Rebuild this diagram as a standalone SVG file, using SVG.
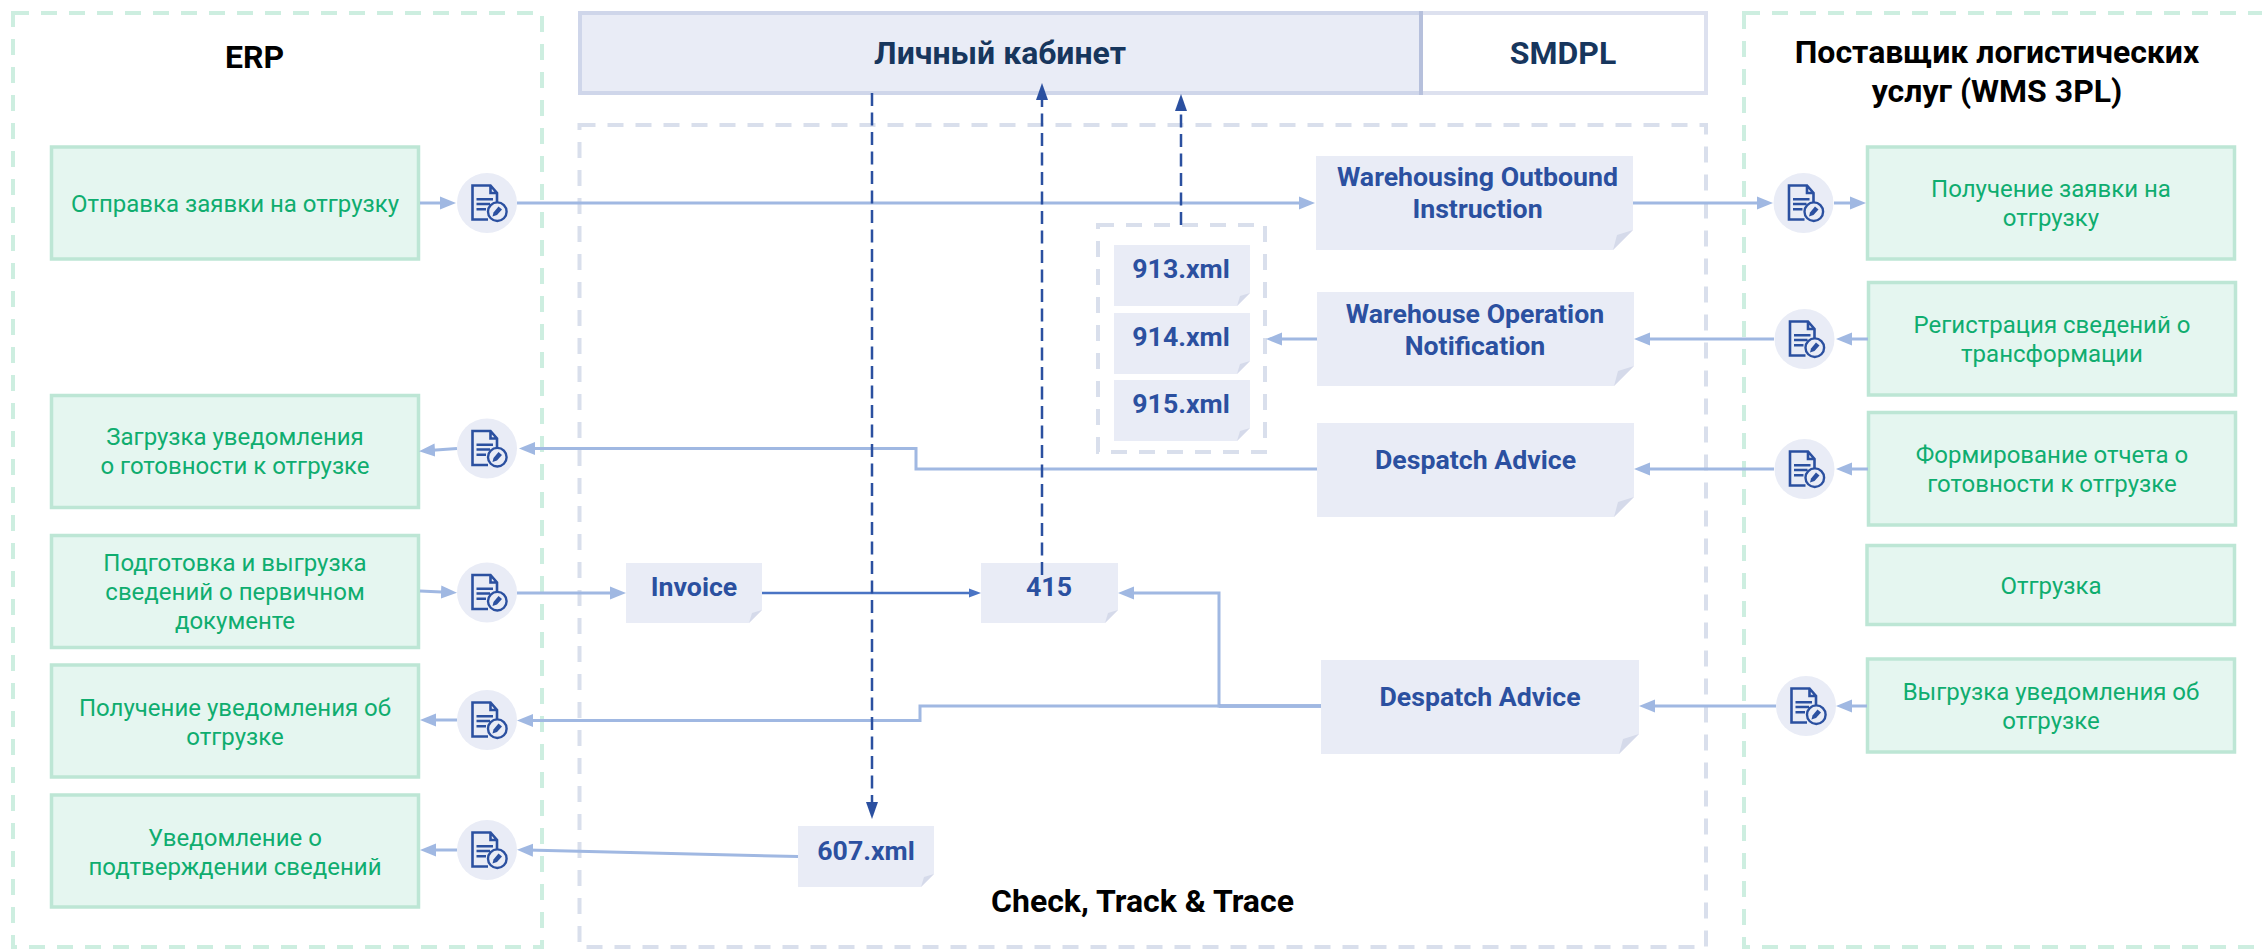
<svg xmlns="http://www.w3.org/2000/svg" width="2262" height="949" viewBox="0 0 2262 949">
<style>
text{font-family:Roboto,"Liberation Sans",sans-serif;text-anchor:middle}
.title{font-size:32px;font-weight:700;fill:#000}
.head{font-size:32px;font-weight:700;fill:#17365d}
.step{font-size:24px;fill:#0fad6f}
.doc{font-size:26.7px;font-weight:700;fill:#2b50a0}
.green-zone{fill:none;stroke:#cdeee0;stroke-width:4;stroke-dasharray:16 12}
.blue-zone{fill:none;stroke:#d9dfec;stroke-width:4;stroke-dasharray:16 12}
.box{fill:#e5f6f0;stroke:#bde6d5;stroke-width:3.5}
.sheet{fill:#e9ecf6}
.fold{fill:#d5daea}
.c{fill:none;stroke:#a0b8e2;stroke-width:3}
.a{marker-end:url(#light)}
.d{fill:none;stroke:#2b50a0;stroke-width:2.5;stroke-dasharray:13 6.5;marker-end:url(#dark)}
</style>
<defs>
<marker id="light" markerUnits="userSpaceOnUse" markerWidth="16" markerHeight="14" refX="6" refY="7" orient="auto"><path d="M0,.5L16,7L0,13.500z" fill="#a0b8e2"/></marker>
<marker id="dark" markerUnits="userSpaceOnUse" markerWidth="17" markerHeight="13" refX="7" refY="6.5" orient="auto"><path d="M0,.5L17,6.5L0,12.500z" fill="#2b50a0"/></marker>
<marker id="mid" markerUnits="userSpaceOnUse" markerWidth="12" markerHeight="10" refX="4" refY="5" orient="auto"><path d="M0,.5L12,5L0,9.500z" fill="#4a74c4"/></marker>
<g id="ico">
<circle r="30" fill="#e9ecf6"/>
<path d="M1,16.500H-14.500V-17.500H3.500L10,-10V-1M3.500,-17.500V-10H10" fill="none" stroke="#2b50a0" stroke-width="2.600"/>
<path d="M-10.500,-3.700H6M-10.500,1H3M-10.500,6.300H-1" fill="none" stroke="#2b50a0" stroke-width="2.400"/>
<circle cx="10.300" cy="8.700" r="9.300" fill="#e9ecf6" stroke="#2b50a0" stroke-width="2.400"/>
<path d="M5.500,13.500L6.500,9.500L11.500,3.500L15,6.500L10,12z" fill="#2b50a0"/>
</g>
</defs>

<g id="zones">
<rect id="erp-zone" class="green-zone" x="13" y="13" width="529" height="934"/>
<rect id="wms-zone" class="green-zone" x="1744" y="13" width="530" height="934"/>
<rect id="ctt-zone" class="blue-zone" x="579.500" y="125" width="1126.500" height="822"/>
<rect id="dash-xml" class="blue-zone" x="1098" y="225" width="167" height="227"/>
</g>

<g id="cabinet">
<rect x="580" y="13" width="841" height="80" fill="#e9ecf6" stroke="#cfd6ea" stroke-width="4"/>
<text class="head" x="1000" y="64">Личный кабинет</text>
</g>
<g id="smdpl">
<rect x="1421" y="13" width="285" height="80" fill="#fff" stroke="#dde1ef" stroke-width="4"/>
<path d="M1421,11V95" stroke="#b6c0dc" stroke-width="4"/>
<text class="head" x="1563" y="64">SMDPL</text>
</g>

<g id="title-erp"><text class="title" x="254.500" y="68">ERP</text></g>
<g id="title-wms"><text class="title" x="1997" y="63">Поставщик логистических</text><text class="title" x="1997" y="102">услуг (WMS 3PL)</text></g>
<g id="title-ctt"><text class="title" x="1142.500" y="911.500">Check, Track &amp; Trace</text></g>

<g id="erp-1"><rect class="box" x="51.500" y="147" width="367" height="112"/><text class="step" x="235" y="212">Отправка заявки на отгрузку</text></g>
<g id="erp-2"><rect class="box" x="51.500" y="395.500" width="367" height="112"/><text class="step" x="235" y="445">Загрузка уведомления</text><text class="step" x="235" y="474">о готовности к отгрузке</text></g>
<g id="erp-3"><rect class="box" x="51.500" y="535.500" width="367" height="112"/><text class="step" x="235" y="571">Подготовка и выгрузка</text><text class="step" x="235" y="600">сведений о первичном</text><text class="step" x="235" y="629">документе</text></g>
<g id="erp-4"><rect class="box" x="51.500" y="665" width="367" height="112"/><text class="step" x="235" y="716">Получение уведомления об</text><text class="step" x="235" y="745">отгрузке</text></g>
<g id="erp-5"><rect class="box" x="51.500" y="795" width="367" height="112"/><text class="step" x="235" y="846">Уведомление о</text><text class="step" x="235" y="875">подтверждении сведений</text></g>

<g id="wms-1"><rect class="box" x="1867.500" y="147" width="367" height="112"/><text class="step" x="2051" y="197">Получение заявки на</text><text class="step" x="2051" y="226">отгрузку</text></g>
<g id="wms-2"><rect class="box" x="1868.500" y="282.500" width="367" height="112.500"/><text class="step" x="2052" y="333">Регистрация сведений о</text><text class="step" x="2052" y="362">трансформации</text></g>
<g id="wms-3"><rect class="box" x="1868.500" y="412.500" width="367" height="112.500"/><text class="step" x="2052" y="463">Формирование отчета о</text><text class="step" x="2052" y="492">готовности к отгрузке</text></g>
<g id="wms-4"><rect class="box" x="1867" y="545.500" width="367.500" height="79"/><text class="step" x="2051" y="594">Отгрузка</text></g>
<g id="wms-5"><rect class="box" x="1867.500" y="659" width="367" height="93"/><text class="step" x="2051" y="700">Выгрузка уведомления об</text><text class="step" x="2051" y="729">отгрузке</text></g>

<g id="doc-outbound"><path class="sheet" d="M1316,156H1633V230L1613,250H1316z"/><path class="fold" d="M1633,230L1613,250L1617,235z"/><text class="doc" x="1477.500" y="186">Warehousing Outbound</text><text class="doc" x="1477.500" y="218">Instruction</text></g>
<g id="doc-operation"><path class="sheet" d="M1317,292H1634V366L1614,386H1317z"/><path class="fold" d="M1634,366L1614,386L1618,371z"/><text class="doc" x="1475" y="323">Warehouse Operation</text><text class="doc" x="1475" y="355">Notification</text></g>
<g id="doc-despatch-1"><path class="sheet" d="M1317,423H1634V497L1614,517H1317z"/><path class="fold" d="M1634,497L1614,517L1618,502z"/><text class="doc" x="1475.500" y="469">Despatch Advice</text></g>
<g id="doc-despatch-2"><path class="sheet" d="M1321,660H1639V734L1619,754H1321z"/><path class="fold" d="M1639,734L1619,754L1623,739z"/><text class="doc" x="1480" y="706">Despatch Advice</text></g>
<g id="doc-913"><path class="sheet" d="M1114,245H1250V293L1237,306H1114z"/><path class="fold" d="M1250,293L1237,306L1240,296z"/><text class="doc" x="1181" y="278">913.xml</text></g>
<g id="doc-914"><path class="sheet" d="M1114,313H1250V361L1237,374H1114z"/><path class="fold" d="M1250,361L1237,374L1240,364z"/><text class="doc" x="1181" y="346">914.xml</text></g>
<g id="doc-915"><path class="sheet" d="M1114,380H1250V428L1237,441H1114z"/><path class="fold" d="M1250,428L1237,441L1240,431z"/><text class="doc" x="1181" y="413">915.xml</text></g>
<g id="doc-invoice"><path class="sheet" d="M626,563H762V610L749,623H626z"/><path class="fold" d="M762,610L749,623L752,613z"/><text class="doc" x="694" y="596">Invoice</text></g>
<g id="doc-415"><path class="sheet" d="M981,563H1118V610L1105,623H981z"/><path class="fold" d="M1118,610L1105,623L1108,613z"/><text class="doc" x="1049" y="596">415</text></g>
<g id="doc-607"><path class="sheet" d="M798,826H934V874L921,887H798z"/><path class="fold" d="M934,874L921,887L924,877z"/><text class="doc" x="866" y="860">607.xml</text></g>

<g id="icon-e1"><use href="#ico" x="487" y="203"/></g>
<g id="icon-e2"><use href="#ico" x="487" y="448.500"/></g>
<g id="icon-e3"><use href="#ico" x="487" y="592.500"/></g>
<g id="icon-e4"><use href="#ico" x="487" y="720"/></g>
<g id="icon-e5"><use href="#ico" x="487" y="850"/></g>
<g id="icon-w1"><use href="#ico" x="1803.500" y="203"/></g>
<g id="icon-w2"><use href="#ico" x="1804.500" y="339"/></g>
<g id="icon-w3"><use href="#ico" x="1804.500" y="469"/></g>
<g id="icon-w5"><use href="#ico" x="1806" y="706"/></g>

<g id="connectors">
<path class="c a" d="M420,203H446"/>
<path class="c a" d="M517,203H1305"/>
<path class="c a" d="M1633,203H1763"/>
<path class="c a" d="M1834,203H1856"/>
<path class="c a" d="M1868,339H1846"/>
<path class="c a" d="M1774,339H1644"/>
<path class="c a" d="M1317,339H1276"/>
<path class="c a" d="M1868,469H1846"/>
<path class="c a" d="M1774,469H1644"/>
<path class="c a" d="M1317,469H916V448.500H529"/>
<path class="c a" d="M457,448.500L429,450.500"/>
<path class="c a" d="M420,591L447,592.300"/>
<path class="c a" d="M517,593H616"/>
<path d="M762,593H973" fill="none" stroke="#4a74c4" stroke-width="2.500" marker-end="url(#mid)"/>
<path class="c a" d="M1321,706H1219V593H1128"/>
<path d="M1321,706H1219" fill="none" stroke="#86a2d8" stroke-width="3"/>
<path class="c a" d="M1321,706H920V720.500H527"/>
<path class="c a" d="M457,720H430"/>
<path class="c a" d="M798,856.500L527,850"/>
<path class="c a" d="M457,850H430"/>
<path class="c a" d="M1867,706H1846"/>
<path class="c a" d="M1776,706H1649"/>
<path class="d" d="M872,93V809"/>
<path class="d" d="M1042,575V93"/>
<path class="d" d="M1181,225V104"/>
</g>
</svg>
